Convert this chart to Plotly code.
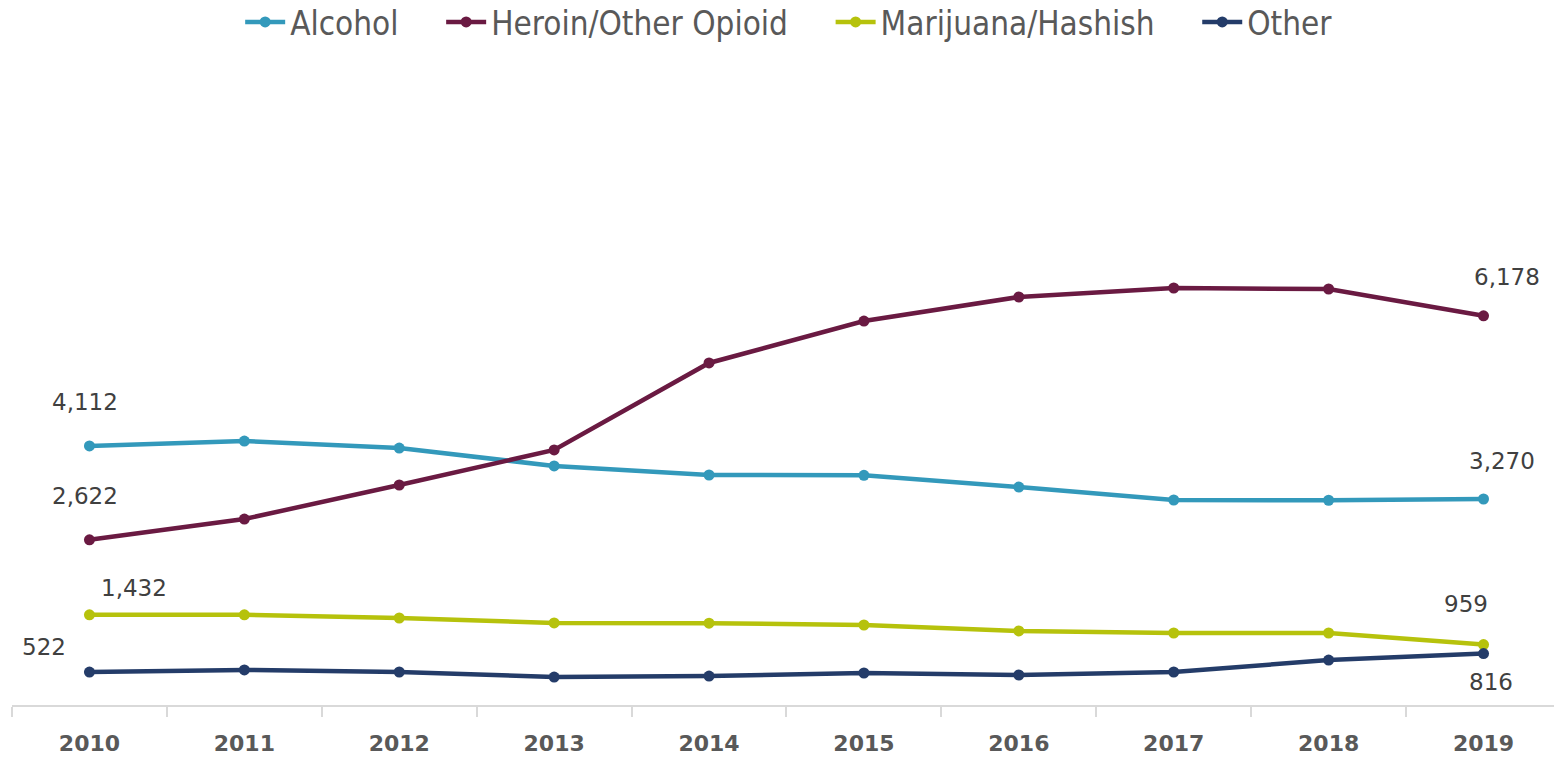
import plotly.graph_objects as go

years = ["2010", "2011", "2012", "2013", "2014", "2015", "2016", "2017", "2018", "2019"]
alcohol = [4112, 4190, 4079, 3794, 3651, 3645, 3460, 3254, 3250, 3270]
heroin = [2622, 2952, 3492, 4048, 5429, 6095, 6476, 6619, 6603, 6178]
marijuana = [1432, 1432, 1381, 1302, 1298, 1270, 1175, 1143, 1143, 959]
other = [522, 556, 524, 444, 460, 508, 476, 524, 714, 816]

series = [
    ("Alcohol", alcohol, "#3399BB"),
    ("Heroin/Other Opioid", heroin, "#6A1A42"),
    ("Marijuana/Hashish", marijuana, "#B6C20C"),
    ("Other", other, "#243C69"),
]

fig = go.Figure()
pad = "\u00a0" * 4
for i, (name, vals, col) in enumerate(series):
    fig.add_trace(go.Scatter(
        x=years, y=vals, name=name + (pad if i < len(series) - 1 else ""),
        mode="lines+markers",
        line=dict(color=col, width=4.5),
        marker=dict(color=col, size=11, symbol="circle"),
    ))

# label offsets (first point, last point) in pixels
offsets = {
    "Alcohol": ((-4, 44), (18, 38)),
    "Heroin/Other Opioid": ((-4, 44), (23, 39)),
    "Marijuana/Hashish": ((45, 27), (-18, 41)),
    "Other": ((-45, 25), (7, -28)),
}
annotations = []
for name, vals, col in series:
    for idx, (dx, dy) in zip((0, len(years) - 1), offsets[name]):
        annotations.append(dict(
            x=idx, y=vals[idx], xref="x", yref="y",
            text=f"{vals[idx]:,}", showarrow=False,
            xshift=dx, yshift=dy, xanchor="center", yanchor="middle",
            font=dict(family="DejaVu Sans", size=23, color="#404040"),
        ))

fig.update_layout(
    width=1554, height=759,
    margin=dict(l=12, r=0, t=75, b=54),
    paper_bgcolor="white", plot_bgcolor="white",
    showlegend=True,
    legend=dict(
        orientation="h", x=0.504, xanchor="center", xref="paper",
        y=1 - 22 / 759, yref="container", yanchor="middle",
        font=dict(family="DejaVu Sans Condensed", size=33, color="#595959"),
        itemwidth=40, bgcolor="rgba(0,0,0,0)",
    ),
    annotations=annotations,
    xaxis=dict(
        type="category", range=[-0.5, 9.455],
        showline=True, linecolor="#D9D9D9", linewidth=1.5,
        ticks="outside", tickson="boundaries", ticklen=10,
        tickcolor="#D9D9D9", tickwidth=1.5,
        showgrid=False, zeroline=False,
        tickfont=dict(family="DejaVu Sans", size=22, color="#595959", weight="bold"),
        ticklabelstandoff=18,
    ),
    yaxis=dict(
        range=[0, 10000], visible=False, showgrid=False, zeroline=False,
    ),
)

fig.write_html(
    "out.html",
    config={"displayModeBar": False},
    post_script="document.body.style.margin='0';document.body.style.overflow='hidden';",
)
